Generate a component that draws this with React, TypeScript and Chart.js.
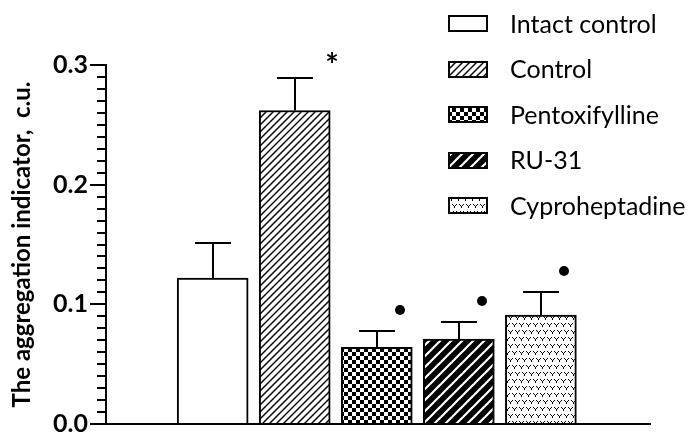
import React, { useEffect, useRef } from 'react';
import { Chart, registerables } from 'chart.js';

Chart.register(...registerables);

const categories = ['Intact control', 'Control', 'Pentoxifylline', 'RU-31', 'Cyproheptadine'];
const means = [0.122, 0.262, 0.064, 0.071, 0.091];
const sems = [0.029, 0.027, 0.014, 0.014, 0.019];
const marks = ['', '*', '•', '•', '•'];
const patternKinds = ['blank', 'hatch', 'checker', 'inverseHatch', 'dots'];
const yTicks = [0.0, 0.1, 0.2, 0.3];
const yTitle = 'The aggregation indicator,  c.u.';

const FONT = 'Lato, "Open Sans", sans-serif';

function makePattern(kind: string): CanvasPattern | string {
  const c = document.createElement('canvas');
  const g = c.getContext('2d')!;
  if (kind === 'blank') return '#ffffff';
  if (kind === 'hatch') {
    const s = 7;
    c.width = s; c.height = s;
    g.fillStyle = '#fff'; g.fillRect(0, 0, s, s);
    g.strokeStyle = '#000'; g.lineWidth = 1.4;
    for (const o of [-s, 0, s]) {
      g.beginPath(); g.moveTo(o - 1, s + 1); g.lineTo(o + s + 1, -1); g.stroke();
    }
  } else if (kind === 'inverseHatch') {
    const s = 11;
    c.width = s; c.height = s;
    g.fillStyle = '#000'; g.fillRect(0, 0, s, s);
    g.strokeStyle = '#fff'; g.lineWidth = 2.2;
    for (const o of [-s, 0, s]) {
      g.beginPath(); g.moveTo(o - 1, s + 1); g.lineTo(o + s + 1, -1); g.stroke();
    }
  } else if (kind === 'checker') {
    const s = 4;
    c.width = 2 * s; c.height = 2 * s;
    g.fillStyle = '#fff'; g.fillRect(0, 0, 2 * s, 2 * s);
    g.fillStyle = '#000';
    g.fillRect(0, 0, s, s); g.fillRect(s, s, s, s);
  } else if (kind === 'dots') {
    c.width = 14; c.height = 14;
    g.fillStyle = '#fff'; g.fillRect(0, 0, 14, 14);
    g.fillStyle = '#000';
    const mark = (x: number, y: number) => {
      g.fillRect(x, y, 1, 1); g.fillRect(x + 4, y, 1, 1);
      g.fillRect(x + 1, y + 1, 1, 1); g.fillRect(x + 3, y + 1, 1, 1);
      g.fillRect(x + 2, y + 2, 1, 2);
    };
    mark(1, 1); mark(8, 1); mark(4, 8); mark(11, 8);
    // wrap-around for the last mark
    mark(-3, 8);
  }
  return g.createPattern(c, 'repeat')!;
}

export default function App() {
  const ref = useRef<HTMLCanvasElement>(null);
  useEffect(() => {
    const canvas = ref.current!;
    const fills = patternKinds.map(makePattern);

    const overlay = {
      id: 'overlay',
      afterDatasetsDraw(chart: any) {
        const ctx = chart.ctx;
        const xs = chart.scales.x, ys = chart.scales.y;
        ctx.save();
        ctx.strokeStyle = '#000';
        ctx.fillStyle = '#000';
        ctx.lineWidth = 2;
        means.forEach((m, i) => {
          const x = Math.round(xs.getPixelForValue(i + 1));
          const yb = ys.getPixelForValue(m);
          const yt = Math.round(ys.getPixelForValue(m + sems[i]));
          ctx.beginPath();
          ctx.moveTo(x, yb); ctx.lineTo(x, yt);
          ctx.moveTo(x - 18, yt); ctx.lineTo(x + 18, yt);
          ctx.stroke();
          const mk = marks[i];
          if (mk === '*') {
            ctx.font = `bold 32px ${FONT}`;
            ctx.textAlign = 'center';
            ctx.textBaseline = 'middle';
            ctx.fillText('*', x + 37, yt - 11);
          } else if (mk) {
            ctx.beginPath();
            ctx.arc(x + 23, yt - 21, 5, 0, Math.PI * 2);
            ctx.fill();
          }
        });
        ctx.restore();
      },
      afterDraw(chart: any) {
        const ctx = chart.ctx;
        const ys = chart.scales.y;
        const left = chart.chartArea.left;
        ctx.save();
        ctx.strokeStyle = '#000';
        ctx.lineWidth = 2;
        for (let i = 1; i < 30; i++) {
          if (i % 10 === 0) continue;
          const y = Math.round(ys.getPixelForValue(i / 100));
          ctx.beginPath(); ctx.moveTo(left - 9, y); ctx.lineTo(left, y); ctx.stroke();
        }
        // legend
        ctx.font = `25px ${FONT}`;
        ctx.textAlign = 'left';
        ctx.textBaseline = 'middle';
        categories.forEach((name, i) => {
          const cy = 23.5 + i * 45.5;
          ctx.fillStyle = fills[i] as any;
          ctx.fillRect(449, Math.round(cy - 7.5), 38, 15);
          ctx.lineWidth = 2;
          ctx.strokeStyle = '#000';
          ctx.strokeRect(449, Math.round(cy - 7.5), 38, 15);
          ctx.fillStyle = '#000';
          ctx.fillText(name, 510, cy + 1);
        });
        ctx.restore();
      },
    };

    const chart = new Chart(canvas, {
      type: 'bar',
      data: {
        datasets: [
          {
            data: means.map((m, i) => ({ x: i + 1, y: m })),
            backgroundColor: fills as any,
            borderColor: '#000',
            borderWidth: 2,
            borderSkipped: 'start',
            barThickness: 71,
          } as any,
        ],
      },
      options: {
        responsive: false,
        animation: false,
        devicePixelRatio: 1,
        layout: { padding: { top: 65, right: 39, bottom: 36, left: 0 } },
        plugins: { legend: { display: false }, tooltip: { enabled: false } },
        scales: {
          x: {
            type: 'linear',
            offset: false,
            min: -0.3,
            max: 6.33,
            ticks: { display: false },
            grid: { display: true, drawOnChartArea: false, drawTicks: false },
            border: { display: true, color: '#000', width: 2 },
          },
          y: {
            min: 0,
            max: 0.3,
            afterBuildTicks: (s: any) => { s.ticks = yTicks.map((v) => ({ value: v })); },
            afterFit: (s: any) => { s.width = 106; },
            ticks: {
              callback: (v: any) => Number(v).toFixed(1),
              color: '#000',
              padding: 2,
              font: { family: FONT, weight: 'bold', size: 25 },
            },
            grid: { drawOnChartArea: false, color: '#000', lineWidth: 2, tickLength: 16 },
            border: { color: '#000', width: 2 },
            title: {
              display: true,
              text: yTitle,
              color: '#000',
              font: { family: FONT, weight: 'bold', size: 24 },
              padding: { top: 8, bottom: 0 },
            },
          },
        },
      },
      plugins: [overlay],
    });
    return () => chart.destroy();
  }, []);

  return (
    <div style={{ position: 'absolute', left: 0, top: 0, width: 689, height: 432, overflow: 'hidden', background: '#fff' }}>
      <canvas ref={ref} width={689} height={460} style={{ display: 'block' }} />
    </div>
  );
}
